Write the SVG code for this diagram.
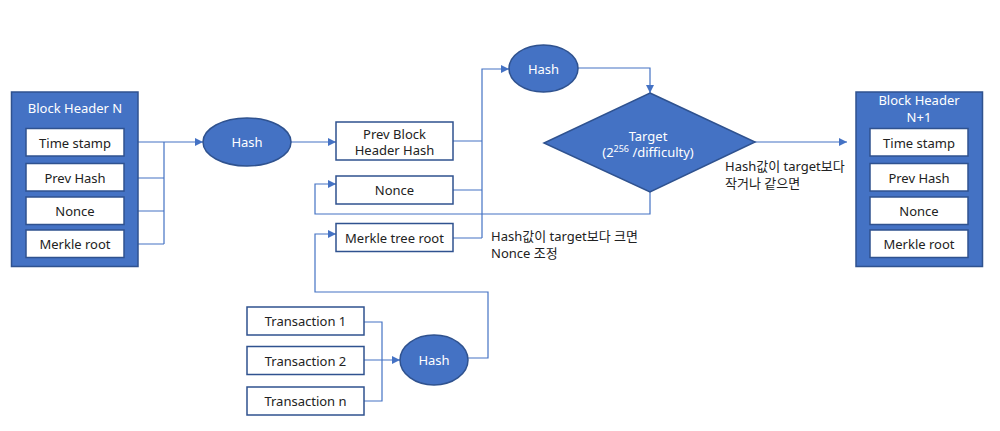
<svg xmlns="http://www.w3.org/2000/svg" width="1000" height="431" viewBox="0 0 1000 431">
<defs>
<marker id="ah" viewBox="0 0 10 10" refX="10" refY="5" markerWidth="8" markerHeight="8" markerUnits="userSpaceOnUse" orient="auto"><path d="M0,0 L10,5 L0,10 z" fill="#4472C4"/></marker>
<style>
text{font-family:"Noto Sans","Noto Sans CJK KR",sans-serif;font-size:13px;text-anchor:middle;dominant-baseline:central;}
.hdr{fill:#4472C4;stroke:#2F528F;stroke-width:1.5;}
.box{fill:#fff;stroke:#2F528F;stroke-width:1.5;}
.blue{fill:#4472C4;stroke:#2F528F;stroke-width:1.5;}
.w{fill:#fff;}
.k{fill:#222;}
.lab{fill:#222;text-anchor:start;}
.c{fill:none;stroke:#4472C4;stroke-width:1.2;}
.ca{fill:none;stroke:#4472C4;stroke-width:1.2;marker-end:url(#ah);}
</style>
</defs>
<rect width="1000" height="431" fill="#fff"/>
<g id="connectors">
<path class="c" d="M124,142 H164 M124,178 H164 M124,211 H164 M124,244 H164 M164,142 V244"/>
<path class="ca" d="M164,142 H203"/>
<path class="ca" d="M291,142 H336"/>
<path class="c" d="M453,141 H482 M453,190 H482 M453,238 H482"/>
<path class="ca" d="M482,238 V69 H509"/>
<path class="ca" d="M578,68 H650 V93"/>
<path class="ca" d="M650,192 V214 H315 V184 H336"/>
<path class="ca" d="M755,142 H847"/>
<path class="ca" d="M468,358 H488 V292 H315 V234 H336"/>
<path class="c" d="M364,322 H382 V401 H364"/>
<path class="ca" d="M364,360 H400"/>
</g>
<g id="block-header-n">
<rect class="hdr" x="11.5" y="92" width="126.5" height="174.5"/>
<text class="w" x="75" y="108">Block Header N</text>
</g>
<g id="bhn-timestamp"><rect class="box" x="26" y="128.5" width="98" height="27.5"/><text class="k" x="75" y="142.5">Time stamp</text></g>
<g id="bhn-prevhash"><rect class="box" x="26" y="163.5" width="98" height="27.5"/><text class="k" x="75" y="177.5">Prev Hash</text></g>
<g id="bhn-nonce"><rect class="box" x="26" y="197" width="98" height="27.5"/><text class="k" x="75" y="211">Nonce</text></g>
<g id="bhn-merkle"><rect class="box" x="26" y="230" width="98" height="27.5"/><text class="k" x="75" y="244">Merkle root</text></g>
<g id="hash1"><ellipse class="blue" cx="247" cy="142" rx="44" ry="24"/><text class="w" x="247" y="142">Hash</text></g>
<g id="prev-block-header-hash"><rect class="box" x="336" y="122" width="117" height="38"/><text class="k" x="394.5" y="134">Prev Block</text><text class="k" x="394.5" y="150">Header Hash</text></g>
<g id="nonce"><rect class="box" x="336" y="176" width="117" height="28"/><text class="k" x="394.5" y="190">Nonce</text></g>
<g id="merkle-tree-root"><rect class="box" x="336" y="223.5" width="117" height="28"/><text class="k" x="394.5" y="238">Merkle tree root</text></g>
<g id="hash2"><ellipse class="blue" cx="543.5" cy="68.5" rx="34.5" ry="23.5"/><text class="w" x="543.5" y="68.5">Hash</text></g>
<g id="target"><path class="blue" d="M650,93 L755,142 L650,192 L544,143 z"/><text class="w" x="648" y="136">Target</text><text class="w" x="648" y="152">(2<tspan font-size="9" dy="-4">256</tspan><tspan dy="4"> /difficulty)</tspan></text></g>
<g id="label-yes"><text class="lab" x="725" y="166">Hash값이 target보다</text><text class="lab" x="725" y="183">작거나 같으면</text></g>
<g id="label-no"><text class="lab" x="491" y="236">Hash값이 target보다 크면</text><text class="lab" x="491" y="253">Nonce 조정</text></g>
<g id="block-header-n1">
<rect class="hdr" x="856" y="92" width="126.5" height="174.5"/>
<text class="w" x="919" y="100">Block Header</text>
<text class="w" x="919" y="116.5">N+1</text>
</g>
<g id="bhn1-timestamp"><rect class="box" x="870" y="128.5" width="98" height="27.5"/><text class="k" x="919" y="142.5">Time stamp</text></g>
<g id="bhn1-prevhash"><rect class="box" x="870" y="163.5" width="98" height="27.5"/><text class="k" x="919" y="177.5">Prev Hash</text></g>
<g id="bhn1-nonce"><rect class="box" x="870" y="197" width="98" height="27.5"/><text class="k" x="919" y="211">Nonce</text></g>
<g id="bhn1-merkle"><rect class="box" x="870" y="230" width="98" height="27.5"/><text class="k" x="919" y="244">Merkle root</text></g>
<g id="tx1"><rect class="box" x="247" y="307" width="117" height="28"/><text class="k" x="305.5" y="321">Transaction 1</text></g>
<g id="tx2"><rect class="box" x="247" y="346.5" width="117" height="28"/><text class="k" x="305.5" y="360.5">Transaction 2</text></g>
<g id="txn"><rect class="box" x="247" y="387" width="117" height="28"/><text class="k" x="305.5" y="401">Transaction n</text></g>
<g id="hash3"><ellipse class="blue" cx="434" cy="360" rx="34" ry="25"/><text class="w" x="434" y="360">Hash</text></g>
</svg>
